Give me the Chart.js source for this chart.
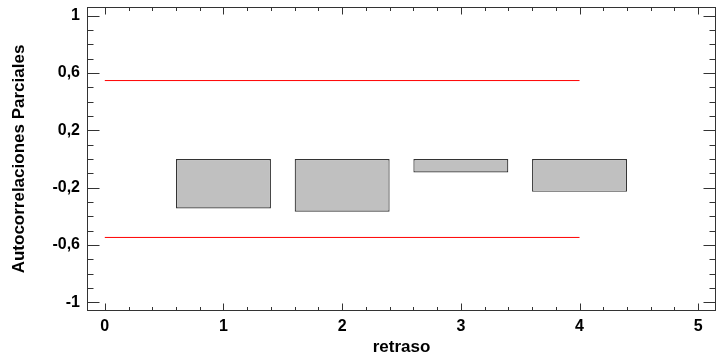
<!DOCTYPE html>
<html>
<head>
<meta charset="utf-8">
<script src="https://cdn.jsdelivr.net/npm/chart.js@4"></script>
<style>
  html, body { margin: 0; padding: 0; background: #fff; }
  #wrap { width: 725px; height: 356px; }
</style>
</head>
<body>
<div id="wrap"><canvas id="c" width="725" height="356"></canvas></div>
<script>
// Data
const lags = [1, 2, 3, 4];
const pacf = [-0.345, -0.368, -0.094, -0.229];
const limitLags = [0, 4];
const upperLimit = [0.547, 0.547];
const lowerLimit = [-0.547, -0.547];
const xTicks = [0, 1, 2, 3, 4, 5];
const yTicks = [-1, -0.6, -0.2, 0.2, 0.6, 1];
const xTitle = 'retraso';
const yTitle = 'Autocorrelaciones Parciales';

const X_MIN = -0.15, X_MAX = 5.15, Y_MIN = -1.06, Y_MAX = 1.06;

const boxTicks = {
  id: 'boxTicks',
  afterDatasetsDraw(chart) {
    const { ctx, chartArea: a, scales: { x, y } } = chart;
    ctx.save();
    ctx.strokeStyle = '#333';
    ctx.lineWidth = 1;
    const L = Math.round(a.left) + 0.5, R = Math.round(a.right) - 0.5;
    const T = Math.round(a.top) + 0.5, B = Math.round(a.bottom) - 0.5;
    ctx.beginPath();
    for (let k = Math.ceil(X_MIN * 5); k <= Math.floor(X_MAX * 5); k++) {
      const v = k / 5;
      const major = k % 5 === 0;
      const len = major ? 7 : 3.5;
      const px = Math.round(x.getPixelForValue(v)) + 0.5;
      ctx.moveTo(px, B); ctx.lineTo(px, B - len);
      ctx.moveTo(px, T); ctx.lineTo(px, T + len);
    }
    for (let k = Math.ceil(Y_MIN * 10); k <= Math.floor(Y_MAX * 10); k++) {
      const v = k / 10;
      const major = ((k + 10) % 4) === 0;
      const len = major ? 12 : 6;
      const py = Math.round(y.getPixelForValue(v)) + 0.5;
      ctx.moveTo(L, py); ctx.lineTo(L + len, py);
      ctx.moveTo(R, py); ctx.lineTo(R - len, py);
    }
    ctx.stroke();
    ctx.strokeRect(L, T, R - L, B - T);
    ctx.restore();
  }
};

Chart.defaults.font.family = "'Liberation Sans', Arial, sans-serif";
Chart.defaults.color = '#000';

const limitLine = (vals) => ({
  type: 'line',
  data: limitLags.map((l, i) => ({ x: l, y: vals[i] })),
  borderColor: 'rgb(255,0,0)',
  backgroundColor: 'rgb(255,0,0)',
  borderWidth: 1,
  borderCapStyle: 'butt',
  tension: 0,
  pointRadius: 0,
  fill: false,
  order: 0
});

new Chart(document.getElementById('c'), {
  type: 'bar',
  data: {
    datasets: [
      {
        type: 'bar',
        data: lags.map((l, i) => ({ x: l, y: [0, pacf[i]] })),
        backgroundColor: '#c0c0c0',
        borderColor: '#333333',
        borderWidth: 1.2,
        borderSkipped: false,
        inflateAmount: 0,
        barPercentage: 0.8,
        categoryPercentage: 1.0,
        order: 2
      },
      limitLine(upperLimit),
      limitLine(lowerLimit)
    ]
  },
  options: {
    responsive: false,
    animation: false,
    layout: { padding: { top: 7, right: 9, left: 0, bottom: 0 } },
    plugins: { legend: { display: false }, tooltip: { enabled: false } },
    scales: {
      x: {
        type: 'linear',
        offset: false,
        min: X_MIN, max: X_MAX,
        afterBuildTicks: s => { s.ticks = xTicks.map(v => ({ value: v })); },
        afterFit: s => { s.height = 45; s.paddingLeft = 0; s.paddingRight = 0; },
        grid: { display: false, drawTicks: false, offset: false },
        border: { display: false },
        ticks: { font: { size: 16, weight: 'bold' }, padding: 6, maxRotation: 0, callback: v => String(v) },
        title: { display: true, text: xTitle, font: { size: 17, weight: 'bold' }, padding: { top: 0, bottom: -1.5 } }
      },
      y: {
        type: 'linear',
        min: Y_MIN, max: Y_MAX,
        afterBuildTicks: s => { s.ticks = yTicks.map(v => ({ value: v })); },
        afterFit: s => { s.width = 87; s.paddingTop = 0; s.paddingBottom = 0; },
        grid: { display: false, drawTicks: false },
        border: { display: false },
        ticks: { font: { size: 16, weight: 'bold' }, padding: 7, callback: v => String(v).replace('.', ',') },
        title: { display: true, text: yTitle, font: { size: 17, weight: 'bold' }, padding: { top: 9, bottom: 0 } }
      }
    }
  },
  plugins: [boxTicks]
});
</script>
</body>
</html>
